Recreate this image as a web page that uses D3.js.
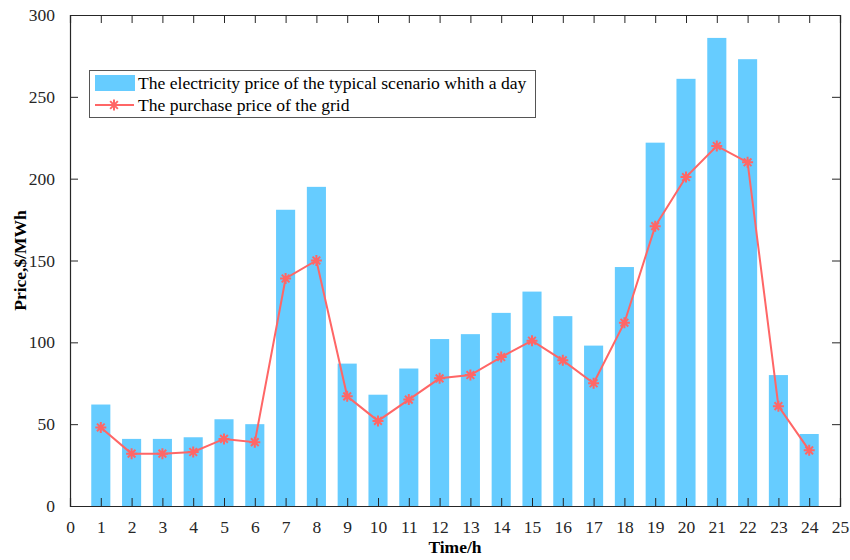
<!DOCTYPE html>
<html><head><meta charset="utf-8">
<script src="https://cdn.jsdelivr.net/npm/d3@7"></script>
<style>body{margin:0;background:#fff}svg{display:block}</style>
</head><body>
<svg id="c" width="850" height="560"></svg>
<script>
const hours = [1,2,3,4,5,6,7,8,9,10,11,12,13,14,15,16,17,18,19,20,21,22,23,24];
const scenarioPrice = [62,41,41,42,53,50,181,195,87,68,84,102,105,118,131,116,98,146,222,261,286,273,80,44];
const gridPrice = [48,32,32,33,41,39,139,150,67,52,65,78,80,91,101,89,75,112,171,201,220,210,61,34];
const xTicks = d3.range(0,26);
const yTicks = [0,50,100,150,200,250,300];
const seriesNames = ["The electricity price of the typical scenario whith a day","The purchase price of the grid"];

const svg = d3.select("#c");
const L=70,R=840,T=15,B=506;
const x = d3.scaleLinear().domain([0,25]).range([L,R]);
const y = d3.scaleLinear().domain([0,300]).range([B,T]);
const font = "'Liberation Serif','Times New Roman',serif";
const axC = "#262626";

// bars
const bw = (x(1)-x(0))*0.62;
svg.append("g").selectAll("rect").data(hours).join("rect")
  .attr("x",(d,i)=>x(d)-bw/2).attr("y",(d,i)=>y(scenarioPrice[i]))
  .attr("width",bw).attr("height",(d,i)=>y(0)-y(scenarioPrice[i]))
  .attr("fill","#66ccff");

// line
const line = d3.line().x((d,i)=>x(hours[i])).y(d=>y(d));
svg.append("path").datum(gridPrice).attr("d",line).attr("fill","none")
  .attr("stroke","#ff6666").attr("stroke-width",2);
const star = (s)=>`M${-s},0H${s}M0,${-s}V${s}M${-s*0.7},${-s*0.7}L${s*0.7},${s*0.7}M${-s*0.7},${s*0.7}L${s*0.7},${-s*0.7}`;
svg.append("g").selectAll("path").data(gridPrice).join("path")
  .attr("transform",(d,i)=>`translate(${x(hours[i])},${y(d)})`)
  .attr("d",star(5.5)).attr("stroke","#ff6666").attr("stroke-width",2).attr("fill","none");

// axes
const tl = 8;
const gx = svg.append("g").attr("transform",`translate(0,${B})`)
  .call(d3.axisBottom(x).tickValues(xTicks).tickSize(-tl).tickPadding(tl+7).tickFormat(d3.format("d")));
const gxt = svg.append("g").attr("transform",`translate(0,${T})`)
  .call(d3.axisTop(x).tickValues(xTicks).tickSize(-tl).tickFormat(""));
const gy = svg.append("g").attr("transform",`translate(${L},0)`)
  .call(d3.axisLeft(y).tickValues(yTicks).tickSize(-tl).tickPadding(tl+7));
const gyr = svg.append("g").attr("transform",`translate(${R},0)`)
  .call(d3.axisRight(y).tickValues(yTicks).tickSize(-tl).tickFormat(""));
[gx,gxt,gy,gyr].forEach(g=>{
  g.select(".domain").attr("stroke",axC).attr("stroke-width",1.2);
  g.selectAll(".tick line").attr("stroke",axC).attr("stroke-width",1);
  g.selectAll("text").attr("font-family",font).attr("font-size",17.5).attr("fill",axC);
});
gx.selectAll(".tick").filter(d=>d===0||d===25).select("line").remove();
gy.selectAll(".tick").filter(d=>d===0||d===300).select("line").remove();
gyr.selectAll(".tick").filter(d=>d===0||d===300).select("line").remove();
gxt.selectAll(".tick").filter(d=>d===0||d===25).select("line").remove();

svg.append("text").attr("x",(L+R)/2).attr("y",553).attr("text-anchor","middle")
  .attr("font-family",font).attr("font-size",17.5).attr("font-weight","bold").attr("fill","#000").text("Time/h");
svg.append("text").attr("transform",`translate(26,${(T+B)/2}) rotate(-90)`).attr("text-anchor","middle")
  .attr("font-family",font).attr("font-size",17.5).attr("font-weight","bold").attr("fill","#000").text("Price,$/MWh");

// legend
const lg = svg.append("g");
lg.append("rect").attr("x",89.5).attr("y",70.5).attr("width",446).attr("height",47)
  .attr("fill","#fff").attr("stroke","#555").attr("stroke-width",1);
lg.append("rect").attr("x",95).attr("y",75).attr("width",40).attr("height",16).attr("fill","#66ccff");
lg.append("line").attr("x1",95).attr("x2",134).attr("y1",105).attr("y2",105).attr("stroke","#ff6666").attr("stroke-width",2);
lg.append("path").attr("transform","translate(114,105)").attr("d",star(5.5)).attr("stroke","#ff6666").attr("stroke-width",2);
lg.selectAll("text").data(seriesNames).join("text")
  .attr("x",138).attr("y",(d,i)=>89+i*22).attr("font-family",font).attr("font-size",17.6).attr("fill","#000").text(d=>d);
</script>
</body></html>
